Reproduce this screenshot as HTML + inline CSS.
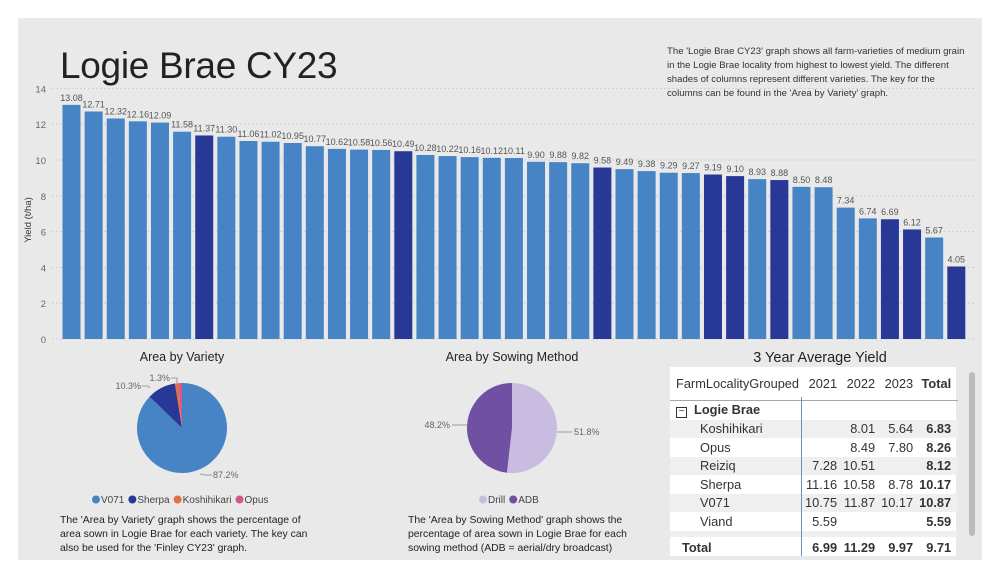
<!DOCTYPE html>
<html><head><meta charset="utf-8">
<style>
body{margin:0;width:1001px;height:579px;background:#fff;font-family:"Liberation Sans",sans-serif;overflow:hidden;position:relative}
#panel{position:absolute;left:18px;top:18px;width:964px;height:542px;background:#e9e9e9}
.abs{position:absolute}
#title{left:60px;top:45px;font-size:37px;color:#222;white-space:nowrap;letter-spacing:-0.3px}
#desc{left:667px;top:45px;font-size:9.6px;line-height:14px;color:#333;white-space:nowrap}
.ptitle{font-size:12.5px;color:#222;text-align:center}
.ptext{font-size:10.4px;line-height:14px;color:#222}
table{border-collapse:collapse;font-size:12.8px;color:#333}
td{padding:0 3px;height:18.5px;text-align:right;white-space:nowrap}
</style></head><body>
<div id="panel"></div>
<div id="title" class="abs">Logie Brae CY23</div>
<div id="desc" class="abs">The 'Logie Brae CY23' graph shows all farm-varieties of medium grain<br>in the Logie Brae locality from highest to lowest yield. The different<br>shades of columns represent different varieties. The key for the<br>columns can be found in the 'Area by Variety' graph.</div>
<svg class="abs" style="left:0;top:0" width="1001" height="579" id="chart"></svg>

<div class="abs ptitle" style="left:102px;top:350px;width:160px">Area by Variety</div>
<div class="abs ptitle" style="left:422px;top:350px;width:180px">Area by Sowing Method</div>
<div class="abs" style="left:700px;top:350px;width:240px;text-align:center;font-size:14.5px;color:#222">3 Year Average Yield</div>
<div class="abs ptext" style="left:60px;top:514px;width:250px">The 'Area by Variety' graph shows the percentage of area sown in Logie Brae for each variety. The key can also be used for the 'Finley CY23' graph.</div>
<div class="abs ptext" style="left:408px;top:514px;width:232px">The 'Area by Sowing Method' graph shows the percentage of area sown in Logie Brae for each sowing method (ADB = aerial/dry broadcast)</div>

<div class="abs" style="left:670px;top:367px;width:286px;height:189px;background:#fff">
<table style="position:absolute;left:0;top:5px;width:286px">
<tr style="height:22px"><td style="text-align:left;padding-left:6px">FarmLocalityGrouped</td><td>2021</td><td>2022</td><td>2023</td><td style="font-weight:bold;padding-right:7px">Total</td></tr>
<tr style="height:6px"><td colspan="5" style="height:6px;border-bottom:1px solid #9ab"></td></tr>
<tr><td style="text-align:left;font-weight:bold;padding-left:6px"><span style="display:inline-block;width:9px;height:9px;border:1px solid #333;font-size:10px;line-height:8px;text-align:center;font-weight:normal;margin-right:7px">−</span>Logie Brae</td><td></td><td></td><td></td><td></td></tr>
<tr style="background:#efefef"><td style="text-align:left;padding-left:30px">Koshihikari</td><td></td><td>8.01</td><td>5.64</td><td style="font-weight:bold;padding-right:7px">6.83</td></tr>
<tr><td style="text-align:left;padding-left:30px">Opus</td><td></td><td>8.49</td><td>7.80</td><td style="font-weight:bold;padding-right:7px">8.26</td></tr>
<tr style="background:#efefef"><td style="text-align:left;padding-left:30px">Reiziq</td><td>7.28</td><td>10.51</td><td></td><td style="font-weight:bold;padding-right:7px">8.12</td></tr>
<tr><td style="text-align:left;padding-left:30px">Sherpa</td><td>11.16</td><td>10.58</td><td>8.78</td><td style="font-weight:bold;padding-right:7px">10.17</td></tr>
<tr style="background:#efefef"><td style="text-align:left;padding-left:30px">V071</td><td>10.75</td><td>11.87</td><td>10.17</td><td style="font-weight:bold;padding-right:7px">10.87</td></tr>
<tr><td style="text-align:left;padding-left:30px">Viand</td><td>5.59</td><td></td><td></td><td style="font-weight:bold;padding-right:7px">5.59</td></tr>
<tr style="height:6px;background:#efefef"><td colspan="5" style="height:5px"></td></tr>
<tr style="font-weight:bold;height:22px"><td style="text-align:left;padding-left:12px">Total</td><td>6.99</td><td>11.29</td><td>9.97</td><td style="padding-right:7px">9.71</td></tr>
</table>
<div class="abs" style="left:131px;top:30px;width:1px;height:159px;background:#6a8fb8"></div>
</div>
<div class="abs" style="left:969px;top:372px;width:6px;height:164px;background:#bbb;border-radius:3px"></div>

<script>
const barValues=[13.08,12.71,12.32,12.16,12.09,11.58,11.37,11.30,11.06,11.02,10.95,10.77,10.62,10.58,10.56,10.49,10.28,10.22,10.16,10.12,10.11,9.90,9.88,9.82,9.58,9.49,9.38,9.29,9.27,9.19,9.10,8.93,8.88,8.50,8.48,7.34,6.74,6.69,6.12,5.67,4.05];
const barVariety=["V071","V071","V071","V071","V071","V071","Sherpa","V071","V071","V071","V071","V071","V071","V071","V071","Sherpa","V071","V071","V071","V071","V071","V071","V071","V071","Sherpa","V071","V071","V071","V071","Sherpa","Sherpa","V071","Sherpa","V071","V071","V071","V071","Sherpa","Sherpa","V071","Sherpa"];
const yTicks=[0,2,4,6,8,10,12,14];
const varietyLabels=["V071","Sherpa","Koshihikari","Opus"];
const varietyShares=[87.2,10.3,1.3,1.2];
const sowingLabels=["Drill","ADB"];
const sowingShares=[51.8,48.2];

const NS="http://www.w3.org/2000/svg";
const svg=document.getElementById('chart');
function mk(t,a,p){const e=document.createElementNS(NS,t);for(const k in a)e.setAttribute(k,a[k]);(p||svg).appendChild(e);return e;}
const y0=339,yScale=17.9,x0=62.5,step=22.12,bw=18;
const yPos=v=>y0-v*yScale;
const xPos=i=>x0+i*step;
const colors={V071:"#4684c6",Sherpa:"#283896",Koshihikari:"#e0703e",Opus:"#d45590"};

yTicks.forEach(t=>{
  const g=mk('line',{x1:52,x2:975,y1:yPos(t),y2:yPos(t),stroke:"#d0d0d0","stroke-dasharray":"2,2"});
  
  
  const l=mk('text',{x:46,y:yPos(t)+4,"text-anchor":"end","font-size":"9.5","fill":"#666"});
  l.textContent=t;
  
  
});
const yt=mk('text',{transform:"translate(31,220) rotate(-90)","text-anchor":"middle","font-size":"9.5","fill":"#333"});
yt.textContent="Yield (t/ha)";



barValues.forEach((v,i)=>{
  const r=mk('rect',{x:xPos(i),y:yPos(v),width:bw,height:v*yScale,fill:colors[barVariety[i]]});
  
  
  const t=mk('text',{x:xPos(i)+bw/2,y:yPos(v)-4,"text-anchor":"middle","font-size":"9","fill":"#555"});
  t.textContent=v.toFixed(2);
  
  
});

function pie(cx,cy,r,vals,cols,name){
  let a=0;const total=vals.reduce((s,v)=>s+v,0);
  vals.forEach((v,i)=>{
    const a1=a+v/total*2*Math.PI;
    const p=(ang)=>[cx+r*Math.sin(ang),cy-r*Math.cos(ang)];
    const [xa,ya]=p(a),[xb,yb]=p(a1);
    const s=mk('path',{d:`M${cx},${cy}L${xa},${ya}A${r},${r} 0 ${a1-a>Math.PI?1:0} 1 ${xb},${yb}Z`,fill:cols[i]});
    
    
    a=a1;
  });
}
pie(182,428,45,varietyShares,varietyLabels.map(l=>colors[l]),'variety');
const sowCols=["#c8bde0","#6f50a3"];
pie(512,428,45,sowingShares,sowCols,'sowing');

function lbl(x,y,txt,anchor,name){const t=mk('text',{x:x,y:y,"text-anchor":anchor,"font-size":"9","fill":"#666"});t.textContent=txt;}
function ln(d){const l=mk('path',{d:d,stroke:"#888",fill:"none","stroke-width":"0.8"});}
ln("M200,474 L205,475 L212,475");lbl(213,478,varietyShares[0].toFixed(1)+"%","start","variety-label-v071");
ln("M150,388 L148,386 L142,386");lbl(141,389,varietyShares[1].toFixed(1)+"%","end","variety-label-sherpa");
ln("M177,383 L177,378 L171,378");lbl(170,381,varietyShares[2].toFixed(1)+"%","end","variety-label-koshihikari");
ln("M557,432 L572,432");lbl(574,435,sowingShares[0].toFixed(1)+"%","start","sowing-label-drill");
ln("M467,425 L452,425");lbl(450,428,sowingShares[1].toFixed(1)+"%","end","sowing-label-adb");

function legend(items,cols,startX,y,name){
  let x=startX;
  items.forEach((it,i)=>{
    const c=mk('circle',{cx:x+4,cy:y-3.5,r:4,fill:cols[i]});
    
    
    const t=mk('text',{x:x+9,y:y,"font-size":"10","fill":"#444"});
    t.textContent=it;
    
    
    x+=9+t.getComputedTextLength()+4;
  });
}
legend(varietyLabels,varietyLabels.map(l=>colors[l]),92,503,'variety-legend');
legend(sowingLabels,sowCols,479,503,'sowing-legend');
</script>
</body></html>
